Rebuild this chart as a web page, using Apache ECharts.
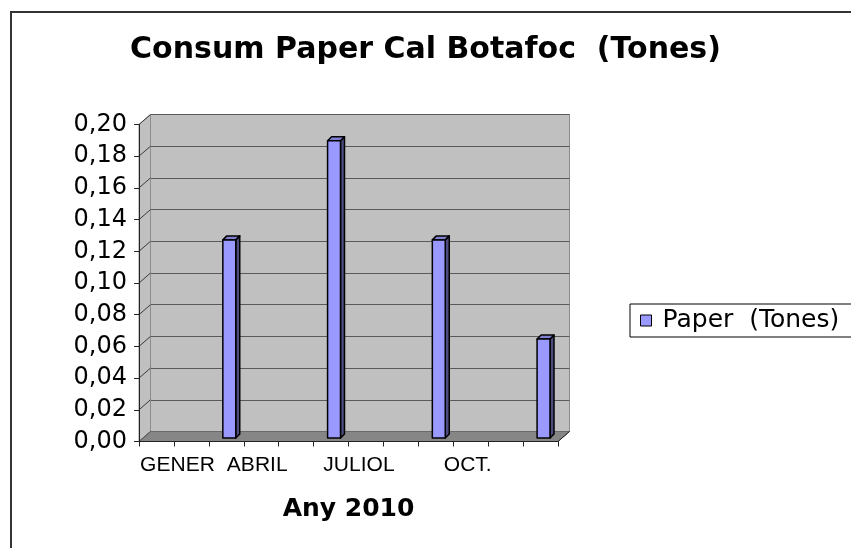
<!DOCTYPE html>
<html><head><meta charset="utf-8">
<script src="https://cdn.jsdelivr.net/npm/echarts@6/dist/echarts.min.js"></script>
<style>html,body{margin:0;padding:0;background:#fff}#c{width:851px;height:548px}</style>
</head><body><div id="c"></div>
<script>
const chartTitle = 'Consum Paper Cal Botafoc  (Tones)';
const xAxisTitle = 'Any 2010';
const seriesName = 'Paper  (Tones)';
const months = ['GENER','FEBRER','MARÇ','ABRIL','MAIG','JUNY','JULIOL','AGOST','SET.','OCT.','NOV.','DES.'];
const paper = [null, null, 0.125, null, null, 0.1875, null, null, 0.125, null, null, 0.0625];
const yMin = 0, yMax = 0.2, yStep = 0.02;

const chart = echarts.init(document.getElementById('c'), null, {renderer: 'canvas'});
const fmtY = v => v.toFixed(2).replace('.', ',');
const labelShift = {GENER: 21, ABRIL: -4, JULIOL: -7, 'OCT.': -3};

const rich = {};
months.forEach((m, i) => {
  const s = labelShift[m] || 0;
  rich['k' + i] = {fontFamily: 'Liberation Sans', fontSize: 21, color: '#000',
    padding: s >= 0 ? [0, 0, 0, 2 * s] : [0, -2 * s, 0, 0]};
});

const option = {
  backgroundColor: '#fff',
  animation: false,
  title: {
    text: chartTitle, left: 'center', top: 35, padding: 0,
    textStyle: {fontFamily: 'DejaVu Sans', fontWeight: 'bold', fontSize: 30, color: '#000'}
  },
  legend: {
    data: [seriesName], left: 630, top: 304, orient: 'vertical',
    padding: [4, 40, 4, 10], borderColor: '#000', borderWidth: 1,
    itemWidth: 11, itemHeight: 11, icon: 'rect',
    itemStyle: {borderColor: '#000', borderWidth: 1},
    textStyle: {fontFamily: 'DejaVu Sans', fontSize: 25, color: '#000', padding: [0, 0, 0, 6]}
  },
  grid: [
    {left: 139, top: 124.5, width: 419, height: 317, show: false},
    {left: 150.5, top: 114.5, width: 419, height: 317, show: true,
     backgroundColor: '#c0c0c0', borderColor: '#8c8c8c', borderWidth: 1}
  ],
  xAxis: [
    {type: 'category', gridIndex: 0, data: months, boundaryGap: true, z: 4,
     axisLine: {lineStyle: {color: '#222', width: 1}},
     axisTick: {show: true, interval: 0, length: 5, lineStyle: {color: '#222'}},
     axisLabel: {interval: 2, margin: 13, color: '#000', fontFamily: 'Liberation Sans', fontSize: 21,
       formatter: v => '{k' + months.indexOf(v) + '|' + v + '}', rich: rich},
     name: xAxisTitle, nameLocation: 'middle', nameGap: 55,
     nameTextStyle: {fontFamily: 'DejaVu Sans', fontWeight: 'bold', fontSize: 25, color: '#000'}
    },
    {type: 'category', gridIndex: 1, data: months, show: false}
  ],
  yAxis: [
    {type: 'value', gridIndex: 0, min: yMin, max: yMax, interval: yStep, z: 4,
     axisLine: {show: true, lineStyle: {color: '#222', width: 1}},
     axisTick: {show: true, length: 5, lineStyle: {color: '#222'}},
     splitLine: {show: false},
     axisLabel: {margin: 12, color: '#000', fontFamily: 'DejaVu Sans', fontSize: 24, formatter: fmtY}
    },
    {type: 'value', gridIndex: 1, min: yMin, max: yMax, interval: yStep,
     axisLine: {show: false}, axisTick: {show: false}, axisLabel: {show: false},
     splitLine: {show: true, lineStyle: {color: '#5a5a5a', width: 1}}
    }
  ],
  series: [{
    name: seriesName, type: 'custom', xAxisIndex: 0, yAxisIndex: 0, z: 3,
    itemStyle: {color: '#9999ff'},
    data: paper.map((v, i) => [i, v]),
    encode: {x: 0, y: 1},
    renderItem: (params, api) => {
      const v = api.value(1);
      if (v === null || v === undefined || isNaN(v)) return;
      const top = api.coord([api.value(0), v]);
      const base = api.coord([api.value(0), 0]);
      const cw = api.size([1, 0])[0];
      const w = cw * 0.37, ox = 3, oy = -3.5, d = 4;
      const x0 = top[0] - w / 2 + ox, x1 = x0 + w;
      const yT = top[1] + oy, yB = base[1] + oy;
      const stroke = {stroke: '#000', lineWidth: 1.5, lineJoin: 'round'};
      return {type: 'group', children: [
        {type: 'polygon', shape: {points: [[x1, yT], [x1 + d, yT - d], [x1 + d, yB - d], [x1, yB]]},
         style: Object.assign({fill: '#4d4d80'}, stroke)},
        {type: 'polygon', shape: {points: [[x0, yT], [x0 + d, yT - d], [x1 + d, yT - d], [x1, yT]]},
         style: Object.assign({fill: '#8080d0'}, stroke)},
        {type: 'rect', shape: {x: x0, y: yT, width: w, height: yB - yT},
         style: Object.assign({fill: '#9999ff'}, stroke)}
      ]};
    }
  }]
};
chart.setOption(option);

// 3D walls derived from the axes' scales
const fx = i => chart.convertToPixel({xAxisIndex: 0}, i);
const bx = i => chart.convertToPixel({xAxisIndex: 1}, i);
const fy = v => chart.convertToPixel({yAxisIndex: 0}, v);
const by = v => chart.convertToPixel({yAxisIndex: 1}, v);
const n = months.length;
const fcw = fx(1) - fx(0), bcw = bx(1) - bx(0);
const fl = fx(0) - fcw / 2, fr = fx(n - 1) + fcw / 2;
const bl = bx(0) - bcw / 2, br = bx(n - 1) + bcw / 2;
const g = [];
g.push({type: 'polygon', z: 1, silent: true,
  shape: {points: [[fl, fy(yMin)], [fl, fy(yMax)], [bl, by(yMax)], [bl, by(yMin)]]},
  style: {fill: '#c0c0c0', stroke: '#8c8c8c', lineWidth: 1}});
g.push({type: 'polygon', z: 1, silent: true,
  shape: {points: [[fl, fy(yMin)], [fr, fy(yMin)], [br, by(yMin)], [bl, by(yMin)]]},
  style: {fill: '#868686', stroke: '#6a6a6a', lineWidth: 1}});
for (let k = 1; k <= Math.round((yMax - yMin) / yStep); k++) {
  const v = yMin + k * yStep;
  g.push({type: 'line', z: 1, silent: true,
    shape: {x1: fl, y1: fy(v), x2: bl, y2: by(v)}, style: {stroke: '#3a3a3a', lineWidth: 1}});
}
g.push({type: 'line', z: 2, silent: true,
  shape: {x1: fr, y1: fy(yMin), x2: br, y2: by(yMin)}, style: {stroke: '#222', lineWidth: 1}});
g.push({type: 'line', z: 2, silent: true,
  shape: {x1: fl, y1: fy(yMin), x2: bl, y2: by(yMin)}, style: {stroke: '#555', lineWidth: 1}});
g.push({type: 'rect', z: 10, silent: true,
  shape: {x: 11, y: 12, width: 900, height: 600},
  style: {fill: null, stroke: '#333', lineWidth: 2}});
chart.setOption({graphic: g});
</script>
</body></html>
